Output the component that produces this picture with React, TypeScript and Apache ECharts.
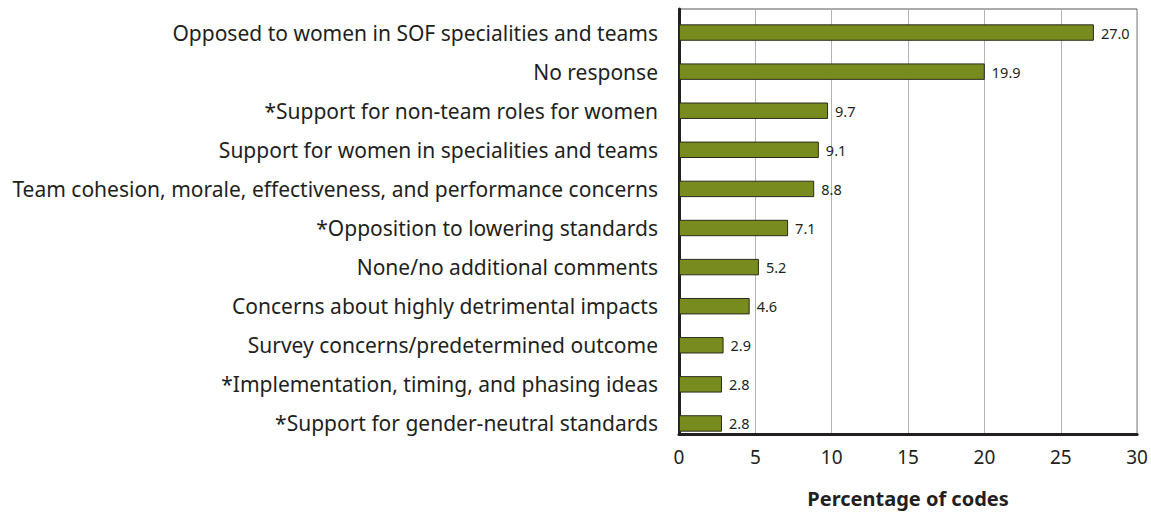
import React, { useEffect, useRef } from "react";
import * as echarts from "echarts";

const categories = [
  "Opposed to women in SOF specialities and teams",
  "No response",
  "*Support for non-team roles for women",
  "Support for women in specialities and teams",
  "Team cohesion, morale, effectiveness, and performance concerns",
  "*Opposition to lowering standards",
  "None/no additional comments",
  "Concerns about highly detrimental impacts",
  "Survey concerns/predetermined outcome",
  "*Implementation, timing, and phasing ideas",
  "*Support for gender-neutral standards",
];
const values = [27.0, 19.9, 9.7, 9.1, 8.8, 7.1, 5.2, 4.6, 2.9, 2.8, 2.8];
const xTicks = [0, 5, 10, 15, 20, 25, 30];
const axisTitle = "Percentage of codes";

const FONT = "'Noto Sans', 'Open Sans', sans-serif";
const TEXT = "#231f20";

export default function App() {
  const ref = useRef<HTMLDivElement>(null);
  useEffect(() => {
    if (!ref.current) return;
    const chart = echarts.init(ref.current, undefined, { renderer: "svg" });
    const L = 679;
    const W = 461;
    chart.setOption({
      animation: false,
      backgroundColor: "#ffffff",
      textStyle: { fontFamily: FONT },
      grid: [
        { left: L, width: W, top: 13, height: 430 },
        {
          left: L,
          width: W,
          top: 9,
          height: 436,
          show: true,
          borderColor: "#555555",
          borderWidth: 1,
        },
      ],
      xAxis: [
        { gridIndex: 0, type: "value", min: 0, max: 30, show: false },
        {
          gridIndex: 1,
          type: "value",
          min: xTicks[0],
          max: xTicks[xTicks.length - 1],
          interval: 5,
          axisLine: { show: true, lineStyle: { color: "#231f20", width: 3 } },
          axisTick: { show: false },
          axisLabel: { fontSize: 19, color: TEXT, margin: 13, fontFamily: FONT },
          splitLine: { show: true, lineStyle: { color: "#b3b3b3", width: 1 } },
          name: axisTitle,
          nameLocation: "middle",
          nameGap: 54,
          nameTextStyle: { fontSize: 20, fontWeight: "bold", color: TEXT, fontFamily: FONT },
        },
      ],
      yAxis: [
        {
          gridIndex: 0,
          type: "category",
          data: categories,
          inverse: true,
          axisLine: { show: false },
          axisTick: { show: false },
          splitLine: { show: false },
          axisLabel: { fontSize: 21, color: TEXT, margin: 21, fontFamily: FONT },
        },
        {
          gridIndex: 1,
          type: "value",
          min: 0,
          max: 1,
          axisLine: { show: true, lineStyle: { color: "#231f20", width: 3 } },
          axisTick: { show: false },
          axisLabel: { show: false },
          splitLine: { show: false },
        },
      ],
      series: [
        {
          type: "bar",
          xAxisIndex: 0,
          yAxisIndex: 0,
          data: values,
          barWidth: "42%",
          itemStyle: { color: "#788b1f", borderColor: "#2a2a1a", borderWidth: 1 },
          label: {
            show: true,
            position: "right",
            distance: 7,
            fontSize: 14.5,
            color: TEXT,
            fontFamily: FONT,
            formatter: (p: any) => Number(p.value).toFixed(1),
          },
          z: 3,
        },
      ],
    });
    return () => chart.dispose();
  }, []);
  return <div ref={ref} style={{ width: 1151, height: 513, position: "absolute", left: 0, top: 0 }} />;
}
